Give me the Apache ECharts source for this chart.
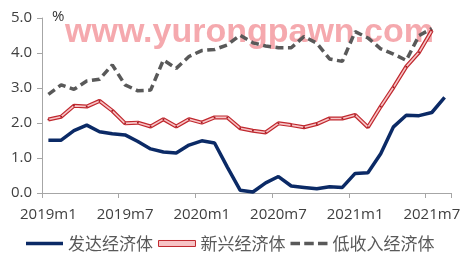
<!DOCTYPE html>
<html>
<head>
<meta charset="utf-8">
<style>html,body{margin:0;padding:0;background:#fff;}#chart{width:467px;height:262px;}</style>
<script src="https://cdn.jsdelivr.net/npm/echarts@6/dist/echarts.min.js"></script>
</head>
<body>
<div id="chart"></div>
<script>
// ---- data ----
var categories = ['2019m1','2019m2','2019m3','2019m4','2019m5','2019m6','2019m7','2019m8','2019m9','2019m10','2019m11','2019m12',
                  '2020m1','2020m2','2020m3','2020m4','2020m5','2020m6','2020m7','2020m8','2020m9','2020m10','2020m11','2020m12',
                  '2021m1','2021m2','2021m3','2021m4','2021m5','2021m6','2021m7','2021m8'];
var advanced = [1.51,1.51,1.78,1.94,1.75,1.69,1.66,1.47,1.26,1.17,1.14,1.37,1.49,1.43,0.74,0.08,0.03,0.29,0.47,0.20,0.16,0.12,0.18,0.16,0.56,0.58,1.12,1.89,2.22,2.21,2.30,2.73];
var emerging = [2.10,2.18,2.49,2.47,2.63,2.35,1.99,2.01,1.90,2.11,1.90,2.11,2.01,2.16,2.16,1.85,1.78,1.73,1.99,1.94,1.88,1.97,2.13,2.13,2.23,1.88,2.47,3.02,3.61,4.02,4.64,null];
var lowIncome = [2.82,3.09,2.96,3.20,3.25,3.66,3.09,2.92,2.94,3.80,3.56,3.90,4.07,4.10,4.23,4.51,4.29,4.20,4.15,4.15,4.47,4.28,3.83,3.76,4.61,4.43,4.12,3.97,3.79,4.50,4.70,null];
var yTicks = [0, 1, 2, 3, 4, 5];
var seriesNames = ['发达经济体', '新兴经济体', '低收入经济体'];

var chart = echarts.init(document.getElementById('chart'), null, {renderer: 'canvas'});
var labelFont = '"Open Sans", "DejaVu Sans", sans-serif';
var option = {
  animation: false,
  backgroundColor: '#ffffff',
  grid: {left: 42, right: 16, top: 18, bottom: 69, containLabel: false},
  graphic: [
    {type: 'text', left: 65, top: 16, z: 0,
     style: {text: 'www.yurongpawn.com', font: 'bold 34px "Liberation Sans", Arial, sans-serif', fill: '#f5a9ae'}},
    {type: 'text', left: 52, top: 9, z: 10,
     style: {text: '%', font: '15px ' + labelFont, fill: '#333333'}}
  ],
  legend: {
    left: 26, top: 235, padding: 0,
    itemWidth: 37, itemHeight: 6, itemGap: 5,
    textStyle: {fontFamily: '"Noto Sans CJK SC", sans-serif', fontSize: 17, color: '#595959'},
    data: [
      {name: seriesNames[0], icon: 'path://M0,0H37V3.5H0Z', itemStyle: {color: '#0b2a66', borderWidth: 0}},
      {name: seriesNames[1], icon: 'rect', itemStyle: {color: '#f7c4c6', borderColor: '#c0282e', borderWidth: 1}},
      {name: seriesNames[2], icon: 'path://M0,0H9V3.5H0Z M13,0H22V3.5H13Z M26,0H35V3.5H26Z', itemStyle: {color: '#595959', borderWidth: 0}}
    ]
  },
  xAxis: {
    type: 'category',
    data: categories,
    boundaryGap: true,
    axisLine: {lineStyle: {color: '#a6a6a6', width: 1}},
    axisTick: {show: true, length: 5, interval: function (i) { return i % 6 === 0; }, lineStyle: {color: '#a6a6a6'}},
    axisLabel: {interval: function (i) { return i % 6 === 0; }, fontFamily: labelFont, fontSize: 15, color: '#404040', margin: 14},
    splitLine: {show: false}
  },
  yAxis: {
    type: 'value',
    min: yTicks[0], max: yTicks[yTicks.length - 1], interval: 1,
    axisLine: {show: true, lineStyle: {color: '#a6a6a6', width: 1}},
    axisTick: {show: true, length: 5, lineStyle: {color: '#a6a6a6'}},
    axisLabel: {fontFamily: labelFont, fontSize: 15, color: '#404040', margin: 10,
                formatter: function (v) { return v.toFixed(1); }},
    splitLine: {show: false}
  },
  series: [
    {name: seriesNames[0], type: 'line', data: advanced, symbol: 'none', z: 5,
     lineStyle: {color: '#0b2a66', width: 3.5}, itemStyle: {color: '#0b2a66'}},
    {name: seriesNames[1], type: 'line', data: emerging, symbol: 'none', z: 3,
     lineStyle: {color: '#c0282e', width: 4}, itemStyle: {color: '#c0282e'}},
    {name: seriesNames[1], type: 'line', data: emerging, symbol: 'circle', symbolSize: 2, showAllSymbol: true, z: 4,
     lineStyle: {color: '#f7c4c6', width: 1.6}, itemStyle: {color: '#a81c24', borderWidth: 0}},
    {name: seriesNames[2], type: 'line', data: lowIncome, symbol: 'none', z: 2,
     lineStyle: {color: '#595959', width: 3.5, type: [8, 4.5]}, itemStyle: {color: '#595959'}}
  ]
};
chart.setOption(option);
</script>
</body>
</html>
